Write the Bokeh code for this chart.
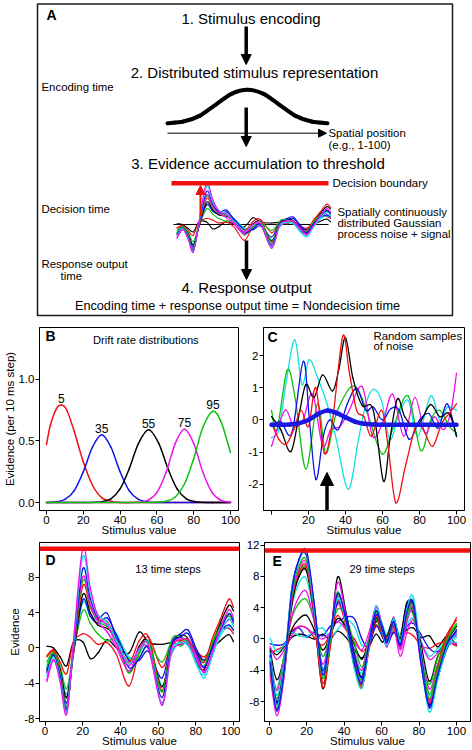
from bokeh.plotting import figure
from bokeh.models import (Range1d, FixedTicker, Span, Arrow, NormalHead, PrintfTickFormatter)
from bokeh.layouts import column, row
from bokeh.embed import file_html
from bokeh.resources import INLINE
from bokeh.core.properties import value

FONT = "Liberation Sans"
RED = "#f01010"
BLUE = "#1010e8"
GREEN = "#10c010"
CYAN = "#10e0e0"
MAGENTA = "#f010f0"
BLACK = "#000000"

# ---------------- data ----------------
# Panel A: schematic stimulus representation (spatial position 0-100, relative height)
REP_X = [0, 10, 20, 30, 40, 50, 60, 70, 80, 90, 100]
REP_Y = [0.0, 0.05, 0.22, 0.55, 0.88, 1.0, 0.88, 0.55, 0.22, 0.05, 0.0]

# Panel B: drift rate distributions
B_RED_X = [0, 2, 5, 8, 11, 15, 20, 25, 30, 35, 40, 50, 60, 70, 80, 90, 100]
B_RED_Y = [0.47, 0.62, 0.75, 0.79, 0.75, 0.58, 0.33, 0.14, 0.04, 0.01, 0.0, 0, 0, 0, 0, 0, 0]
B_BLUE_X = [0, 5, 10, 15, 20, 25, 30, 35, 40, 45, 50, 55, 60, 70, 80, 90, 100]
B_BLUE_Y = [0.0, 0.005, 0.025, 0.095, 0.25, 0.45, 0.55, 0.45, 0.25, 0.095, 0.025, 0.005, 0, 0, 0, 0, 0]
B_BLACK_X = [0, 10, 20, 30, 35, 40, 45, 50, 55.5, 61, 66, 71, 76, 81, 90, 100]
B_BLACK_Y = [0, 0, 0, 0.007, 0.03, 0.11, 0.275, 0.48, 0.59, 0.48, 0.275, 0.11, 0.03, 0.007, 0, 0]
B_MAGENTA_X = [0, 10, 20, 30, 40, 50, 55, 60, 65, 70, 75, 80, 85, 90, 95, 100]
B_MAGENTA_Y = [0, 0, 0, 0, 0, 0.002, 0.017, 0.08, 0.245, 0.48, 0.595, 0.48, 0.245, 0.08, 0.017, 0.002]
B_GREEN_X = [0, 10, 20, 30, 40, 50, 60, 65, 70, 75, 80, 85, 90.5, 95, 100]
B_GREEN_Y = [0, 0, 0, 0, 0, 0, 0.003, 0.01, 0.045, 0.15, 0.355, 0.61, 0.74, 0.65, 0.405]
B_LABELS = ["5", "35", "55", "75", "95"]
B_X_TICKS = [0, 20, 40, 60, 80, 100]
B_Y_TICKS = [0.0, 0.5, 1.0]

# Panel C: random samples of noise + signal
C_CYAN_X = [0, 4, 8, 12.6, 16.5, 20.4, 25, 30, 35, 41.5, 47, 51, 55, 59.5, 64, 69, 74, 79, 86, 91, 95, 100]
C_CYAN_Y = [-0.55, -0.3, 1.2, 2.49, 1.1, 1.87, 1.3, 0.5, -0.6, -2.15, -0.6, 0.5, 0.95, 0.6, -0.6, 0.2, 0.6, -0.5, 0.74, 0.0, 0.4, 0.3]
C_GREEN_X = [0, 3, 8.5, 13, 18.6, 24.9, 29.4, 35, 43, 48, 53, 60, 66, 73.8, 80.7, 86, 91, 96, 100]
C_GREEN_Y = [0.3, -0.3, 1.55, 0.6, -1.52, 0.5, -1.03, 0.2, 1.03, 0.8, 0.0, -1.06, -0.2, 0.75, -0.95, 0.0, 0.3, -0.2, -0.4]
C_BLUE_X = [0, 5, 11, 17.2, 20.5, 24, 28, 31.5, 36, 41, 46, 51, 55, 60, 64.5, 69, 74.4, 80, 85, 90, 95, 100]
C_BLUE_Y = [-0.2, -0.05, -0.4, 1.82, 0.0, -1.85, -0.5, 0.0, -0.3, 0.5, 0.98, 0.3, 0.4, 0.0, 0.35, 0.3, -0.6, 0.0, 0.2, -0.25, 0.5, -0.52]
C_BLACK_X = [0, 5, 10.5, 15, 18.6, 23, 27.6, 33, 36.5, 40, 44, 49, 55, 60.5, 64, 68, 72, 77, 81, 86, 91, 96, 100]
C_BLACK_Y = [0.1, -0.3, -0.98, 0.2, 1.1, 0.7, 1.4, 0.9, 1.6, 2.55, 1.3, 0.45, 0.3, -1.9, -0.6, 0.65, 0.1, -0.2, 0.0, 0.48, 0.1, 0.2, -0.5]
C_RED_X = [0, 4, 8, 12, 16, 20, 24, 28.5, 33, 38.5, 42, 46, 50, 54, 59.5, 63, 67.2, 72.5, 78, 82, 87, 92, 96, 100]
C_RED_Y = [-0.1, -0.6, -0.75, -0.3, 0.3, -0.2, 1.0, -1.03, 0.0, 2.6, 1.5, 0.3, 0.1, -0.5, 0.3, -0.8, -2.57, -1.4, -0.2, -0.3, -0.82, -0.1, 0.2, 0.5]
C_MAGENTA_X = [0, 3, 7.7, 12, 17, 22.2, 27.6, 32, 37, 42, 49, 54.6, 60, 65.5, 71.5, 77.5, 83, 88, 93, 97, 100]
C_MAGENTA_Y = [-0.82, -0.3, 0.31, -0.2, 0.0, 0.8, -0.8, -0.3, -0.2, 0.3, 1.03, -0.5, -0.1, 0.8, -0.5, 0.7, -0.4, 0.1, -0.3, 0.3, 1.45]
C_SIGNAL_X = [0, 10, 15, 20, 25, 30, 35, 40, 45, 50, 55, 60, 70, 80, 90, 100]
C_SIGNAL_Y = [-0.15, -0.14, -0.10, 0.0, 0.18, 0.29, 0.22, 0.08, -0.05, -0.12, -0.14, -0.15, -0.15, -0.15, -0.15, -0.15]
C_STIMULUS = 30
C_X_TICKS = [0, 20, 40, 60, 80, 100]
C_Y_TICKS = [-2, -1, 0, 1, 2]

# Panel D: 13 time steps (evidence by stimulus value)
D_X = [1, 4.5, 8, 11.5, 15, 20, 24, 28, 33, 38, 44.5, 50, 55, 62, 67, 72, 76, 80.5, 84.5, 89, 93, 97.5, 100]
D_BLACK_2 = [0.2, 0.0, -1.0, -2.0, 0.6, 0.7, -1.2, -0.6, 0.9, 0.0, -0.6, 1.8, 0.6, 0.4, 0.6, 0.4, 0.8, -0.6, -1.4, 0.0, 0.8, 1.5, 0.7]
D_RED_2 = [-0.9, -0.2, -1.6, -2.9, 0.6, 1.6, 1.2, 0.4, 0.6, -0.8, -4.3, -0.4, 1.2, -2.2, 0.4, 0.8, 0.6, -0.4, -1.0, 0.4, 2.0, 2.2, 1.6]
D_GREEN_2 = [-1.6, -0.4, -2.0, -4.6, -0.6, 4.2, 2.8, 1.6, 0.8, 1.0, -1.2, -1.0, 0.4, -1.6, 0.6, 0.2, 0.8, -0.8, -1.4, 0.8, 2.6, 3.6, 2.8]
D_CYAN_2 = [-2.0, -0.8, -2.2, -5.2, -0.4, 5.1, 3.6, 3.2, 2.6, 1.6, -1.0, -0.6, 0.8, -4.2, -0.8, 0.8, 0.4, -2.0, -3.0, -0.6, 1.4, 2.4, 2.0]
D_BLUE_2 = [-2.4, -0.6, -2.6, -6.2, -0.8, 5.4, 3.6, 2.8, 3.4, 1.4, -1.4, -1.4, -0.4, -3.4, 0.6, 1.6, 2.0, -0.2, -1.4, 0.0, 1.8, 2.6, 2.0]
D_BLACK_1 = [-2.6, -0.9, -2.4, -5.6, -0.6, 6.0, 4.0, 2.6, 2.2, 1.0, -2.8, 0.2, 0.6, -4.4, 0.2, 1.4, 1.0, -1.6, -2.4, 0.4, 2.8, 4.8, 4.2]
D_RED_1 = [-1.0, -0.4, -2.6, -6.8, -0.8, 7.0, 4.6, 3.2, 3.0, 0.8, -1.6, 0.8, 1.2, -4.8, 0.4, 0.8, 1.0, -0.8, -1.6, 1.2, 3.2, 5.5, 4.6]
D_GREEN_1 = [-2.2, -0.6, -2.8, -6.6, -0.4, 7.6, 4.8, 3.0, 2.4, 0.6, -2.8, -0.6, 0.6, -5.0, 0.8, 1.2, 0.6, -1.2, -2.0, 0.6, 2.4, 3.9, 3.2]
D_MAGENTA_2 = [-3.8, -1.4, -3.4, -7.2, 0.0, 8.0, 5.0, 3.0, 1.8, 0.0, -2.6, -0.2, -0.2, -6.2, -0.6, 0.4, 0.4, -1.4, -2.6, -0.6, 1.8, 3.2, 2.8]
D_BLUE_1 = [-2.8, -0.8, -3.2, -7.0, -0.2, 8.9, 5.6, 3.4, 3.9, 1.0, -2.2, -1.2, 0.0, -5.6, 0.2, 1.2, 1.6, -0.6, -2.2, 0.2, 2.0, 3.8, 3.0]
D_CYAN_1 = [-3.2, -1.0, -3.6, -7.2, 0.2, 10.3, 6.2, 3.8, 2.9, 0.8, -1.8, -0.2, 0.4, -6.4, -0.5, 0.6, 0.2, -1.8, -3.4, -0.8, 1.6, 3.3, 2.4]
D_MAGENTA_1 = [-3.6, -1.3, -3.8, -7.5, 0.5, 11.2, 6.8, 3.6, 2.6, 0.4, -2.0, 0.0, 0.2, -6.5, -0.2, 1.0, 0.8, -1.0, -2.8, -0.3, 2.2, 4.3, 3.4]
D_BOUNDARY = 11.2
D_X_TICKS = [0, 20, 40, 60, 80, 100]
D_Y_TICKS = [-8, -4, 0, 4, 8]

# Panel E: 29 time steps
E_X = [0.5, 4, 8, 12, 16, 20, 24, 28.5, 32.5, 36.5, 41, 45.5, 49.5, 53, 57, 60.5, 63, 66.5, 70, 73.5, 77, 81, 85.5, 90, 95, 100]
E_BLACK_3 = [-1.2, -2.0, -1.0, 0.2, 0.6, 0.4, 0.0, 0.6, 0.0, 1.0, 0.2, -1.4, -2.4, -1.2, 0.6, -0.4, 0.4, 0.8, 0.4, 1.2, 1.4, 0.2, 0.4, -1.0, 0.4, -0.8]
E_RED_3 = [-1.8, -1.4, -0.8, 1.0, 1.6, 1.4, 0.2, -0.8, 0.6, 3.0, 1.2, 0.0, -1.6, -0.6, 1.8, 0.6, -0.2, 1.0, 0.4, 0.8, 0.4, -0.8, -1.2, -0.6, -0.4, -0.9]
E_BLUE_3 = [-0.6, -0.8, -0.6, 0.8, 1.4, 0.2, 0.8, 0.4, 1.6, 2.2, 2.8, 2.6, 0.0, -1.0, 1.6, 0.2, -0.8, 0.8, -0.4, 1.6, 2.0, 0.6, -1.2, -1.6, -0.2, 0.6]
E_CYAN_3 = [0.1, -1.6, -0.8, 0.8, 0.4, 0.3, 1.0, 1.4, 0.2, 1.2, 2.4, 1.6, -0.8, -0.2, 2.4, 0.8, 0.2, 1.2, 0.0, 1.8, 2.6, -0.2, -2.2, -1.2, -0.8, -0.4]
E_MAGENTA_3 = [-1.0, -2.6, -1.4, 0.4, 1.6, 1.4, 0.6, 0.0, 0.8, 2.2, 1.2, -0.4, -1.4, 0.6, 3.6, 1.2, -0.6, 1.4, -2.2, 0.8, 2.4, -0.4, -2.6, -1.8, -0.6, -0.6]
E_BLACK_2 = [-1.4, -5.2, -2.4, 1.2, 2.6, 3.0, 1.2, -1.4, 0.4, 2.6, 1.6, -0.8, -2.6, -0.4, 2.2, 1.4, 0.2, 1.8, 0.4, 4.6, 3.2, -0.6, -5.4, -2.2, -0.6, 0.6]
E_GREEN_3 = [-2.6, -6.4, -2.0, 2.6, 4.6, 5.0, 2.4, -2.2, 0.6, 3.8, 2.8, -0.6, -3.6, -0.2, 2.4, 0.6, 0.6, 2.2, 0.2, 3.4, 3.0, -1.6, -5.8, -2.4, 0.4, 1.6]
E_MAGENTA_2 = [-2.2, -6.6, -2.6, 2.8, 5.4, 6.0, 2.2, -3.2, 0.6, 4.4, 2.0, -1.6, -4.0, -0.2, 4.0, 1.2, -1.0, 2.8, -1.4, 2.2, 3.6, -1.2, -6.4, -3.2, -0.6, 0.4]
E_CYAN_2 = [-1.8, -7.2, -3.0, 4.0, 7.2, 7.6, 2.8, -3.8, 0.4, 5.0, 2.6, -1.8, -4.4, -0.6, 3.6, 1.8, 0.6, 2.4, 0.4, 3.0, 5.0, -1.4, -7.2, -4.4, -1.2, 0.2]
E_RED_2 = [-4.6, -9.0, -4.4, 4.2, 8.2, 8.8, 3.4, -5.6, -1.0, 4.8, 1.6, -3.6, -6.2, -1.8, 3.0, 0.4, -0.4, 1.8, -0.6, 3.6, 4.2, -2.8, -7.8, -3.4, 0.6, 2.4]
E_GREEN_2 = [-3.2, -7.6, -3.6, 4.6, 8.4, 9.0, 3.4, -4.6, 0.2, 6.0, 2.0, -3.4, -5.8, -1.0, 3.4, 1.0, -0.2, 1.4, -0.8, 2.6, 3.8, -2.0, -7.0, -3.4, 0.2, 2.0]
E_BLACK_1 = [-2.8, -8.0, -3.8, 4.4, 8.0, 8.6, 3.0, -6.3, -0.6, 7.9, 3.4, -2.0, -4.8, -0.8, 2.6, 0.8, 0.4, 2.6, 0.0, 4.6, 4.0, -1.8, -8.4, -4.2, -0.4, 1.6]
E_RED_1 = [-3.8, -8.4, -4.4, 4.8, 8.6, 9.2, 3.0, -6.2, -1.2, 5.4, 2.6, -2.4, -6.0, -1.6, 2.8, 0.6, 0.2, 1.6, -1.0, 3.2, 4.4, -2.2, -8.2, -3.6, 0.2, 2.7]
E_MAGENTA_1 = [-4.2, -9.8, -4.8, 5.0, 9.0, 9.6, 3.6, -5.0, -0.2, 7.2, 3.0, -2.6, -5.4, -0.4, 4.2, 1.4, -0.6, 1.8, -1.2, 2.8, 4.0, -3.2, -8.0, -4.4, -0.8, 0.8]
E_GREEN_1 = [-3.4, -8.8, -4.2, 5.4, 9.4, 10.0, 4.0, -5.0, -0.4, 5.6, 2.2, -3.0, -5.2, -0.6, 3.2, 1.2, 0.0, 2.0, -0.2, 3.0, 4.2, -2.4, -7.6, -4.0, -0.2, 1.8]
E_BLUE_2 = [-2.0, -8.2, -3.4, 6.4, 10.2, 10.6, 4.6, -4.0, 0.4, 4.6, 2.8, -2.2, -5.0, -1.2, 3.0, 1.6, -0.2, 2.2, -0.6, 4.2, 4.4, -2.2, -8.8, -5.0, -1.2, 1.2]
E_CYAN_1 = [-2.4, -8.6, -3.6, 6.2, 10.0, 11.0, 4.2, -4.4, 0.0, 5.2, 2.0, -3.8, -6.3, -1.4, 4.2, 0.8, -0.8, 2.6, -0.4, 3.8, 5.3, -2.6, -9.3, -5.2, -1.0, 0.6]
E_BLUE_1 = [-3.0, -9.2, -4.0, 6.0, 10.2, 11.2, 4.6, -4.5, 0.2, 5.8, 2.4, -3.2, -5.6, -1.0, 3.6, 1.0, -0.4, 2.2, -0.8, 3.4, 4.6, -3.0, -8.6, -4.6, -0.6, 1.0]
E_BOUNDARY = 11.3
E_X_TICKS = [0, 20, 40, 60, 80, 100]
E_Y_TICKS = [-8, -4, 0, 4, 8, 12]

# ---------------- series collections ----------------
B_SERIES = [(B_RED_X, B_RED_Y, RED), (B_BLUE_X, B_BLUE_Y, BLUE), (B_BLACK_X, B_BLACK_Y, BLACK),
            (B_MAGENTA_X, B_MAGENTA_Y, MAGENTA), (B_GREEN_X, B_GREEN_Y, GREEN)]
C_SERIES = [(C_CYAN_X, C_CYAN_Y, CYAN), (C_GREEN_X, C_GREEN_Y, GREEN), (C_MAGENTA_X, C_MAGENTA_Y, MAGENTA),
            (C_BLUE_X, C_BLUE_Y, BLUE), (C_BLACK_X, C_BLACK_Y, BLACK), (C_RED_X, C_RED_Y, RED)]
D_SERIES = [(D_BLACK_2, BLACK), (D_RED_2, RED), (D_GREEN_2, GREEN), (D_CYAN_2, CYAN), (D_BLUE_2, BLUE),
            (D_BLACK_1, BLACK), (D_RED_1, RED), (D_GREEN_1, GREEN), (D_MAGENTA_2, MAGENTA),
            (D_BLUE_1, BLUE), (D_CYAN_1, CYAN), (D_MAGENTA_1, MAGENTA)]
E_SERIES = [(E_BLACK_3, BLACK), (E_RED_3, RED), (E_BLUE_3, BLUE), (E_CYAN_3, CYAN), (E_MAGENTA_3, MAGENTA),
            (E_BLACK_2, BLACK), (E_GREEN_3, GREEN), (E_MAGENTA_2, MAGENTA), (E_CYAN_2, CYAN),
            (E_RED_2, RED), (E_GREEN_2, GREEN), (E_BLACK_1, BLACK), (E_RED_1, RED), (E_MAGENTA_1, MAGENTA),
            (E_GREEN_1, GREEN), (E_BLUE_2, BLUE), (E_CYAN_1, CYAN), (E_BLUE_1, BLUE)]


# ---------------- helpers ----------------
def smooth_line(p, xs, ys, color, width, **renderer_kw):
    """Draw a smooth curve through the read points with Bokeh's Bezier glyph
    (Catmull-Rom tangents -> cubic control points)."""
    pts = list(zip(xs, ys))
    n = len(pts)
    x0, y0, x1, y1, cx0, cy0, cx1, cy1 = [], [], [], [], [], [], [], []
    for i in range(n - 1):
        xa, ya = pts[i]
        xb, yb = pts[i + 1]
        xp, yp = pts[i - 1] if i > 0 else pts[i]
        xn, yn = pts[i + 2] if i + 2 < n else pts[i + 1]
        x0.append(xa); y0.append(ya); x1.append(xb); y1.append(yb)
        cx0.append(xa + (xb - xp) / 6.0); cy0.append(ya + (yb - yp) / 6.0)
        cx1.append(xb - (xn - xa) / 6.0); cy1.append(yb - (yn - ya) / 6.0)
    p.bezier(x0=x0, y0=y0, x1=x1, y1=y1, cx0=cx0, cy0=cy0, cx1=cx1, cy1=cy1,
             line_color=color, line_width=width, line_cap="round", **renderer_kw)


def txt(p, x, y, s, size, align="left", bold=False, color="black", **kw):
    p.text(x=[x], y=[y], text=[s], text_font=value(FONT), text_font_size=size,
           text_align=align, text_baseline="middle", text_color=color,
           text_font_style="bold" if bold else "normal", **kw)


def arrow(p, x0, y0, x1, y1, color, width, head):
    p.add_layout(Arrow(end=NormalHead(size=head, fill_color=color, line_color=color, line_width=1),
                       x_start=x0, y_start=y0, x_end=x1, y_end=y1,
                       line_color=color, line_width=width))


def style_panel(p, xticks, yticks, ylabel=None, hide_zero=False):
    p.grid.visible = False
    p.outline_line_color = "black"
    p.outline_line_width = 1
    p.outline_line_alpha = 1
    p.background_fill_color = "white"
    p.border_fill_color = "white"
    p.xaxis.ticker = FixedTicker(ticks=xticks)
    p.yaxis.ticker = FixedTicker(ticks=yticks)
    xo = {t: str(t) for t in xticks}
    if hide_zero:
        xo[0] = ""
    p.xaxis.major_label_overrides = xo
    p.axis.minor_tick_line_color = None
    p.axis.major_tick_in = 0
    p.axis.major_tick_out = 4
    p.axis.major_tick_line_color = "black"
    p.axis.axis_line_color = "black"
    p.axis.major_label_standoff = 1
    p.axis.major_label_text_font = FONT
    p.axis.major_label_text_font_size = "11.5px"
    p.axis.major_label_text_color = "black"
    p.axis.axis_label_text_font = FONT
    p.axis.axis_label_text_font_size = "11.5px"
    p.axis.axis_label_text_font_style = "normal"
    p.axis.axis_label_text_color = "black"
    p.xaxis.axis_label = "Stimulus value"
    p.xaxis.axis_label_standoff = -3
    if ylabel:
        p.yaxis.axis_label = ylabel
        p.yaxis.axis_label_standoff = 0


# ---------------- panel A (schematic, pixel-like coordinates) ----------------
pA = figure(width=472, height=320, x_range=Range1d(0, 472), y_range=Range1d(320, 0),
            output_backend="svg", toolbar_location=None, x_axis_type=None, y_axis_type=None,
            min_border=0, outline_line_color=None)
pA.extra_x_ranges = {"rep_x": Range1d(-104.375, 190.625), "ins_x": Range1d(-112.9, 191.6)}
pA.extra_y_ranges = {"rep_y": Range1d(-5.907, 3.674), "ins_y": Range1d(-26.02, 60.70)}

pA.quad(left=[37], right=[452], top=[3.5], bottom=[315], fill_color=None,
        line_color="#1a1a1a", line_width=1.5)
txt(pA, 46, 14, "A", "14px", bold=True)
txt(pA, 250.5, 18, "1. Stimulus encoding", "15px", align="center")
arrow(pA, 245.7, 26, 245.7, 64, BLACK, 3.5, 10)
txt(pA, 254, 71.7, "2. Distributed stimulus representation", "15px", align="center")
txt(pA, 41, 86, "Encoding time", "11.4px")
smooth_line(pA, REP_X, REP_Y, BLACK, 4, x_range_name="rep_x", y_range_name="rep_y")
arrow(pA, 167, 132.7, 326, 132.7, BLACK, 1, 8)
arrow(pA, 245.7, 107, 245.7, 146, BLACK, 3.5, 10)
txt(pA, 328, 132, "Spatial position", "11.4px")
txt(pA, 328, 144.3, "(e.g., 1-100)", "11.4px")
txt(pA, 257.5, 163.3, "3. Evidence accumulation to threshold", "15px", align="center")

# inset of accumulated evidence (same series as panel D)
pA.segment(x0=[-1.3], y0=[0], x1=[98.7], y1=[0], line_color=BLACK, line_width=1,
           x_range_name="ins_x", y_range_name="ins_y")
for ys, col in D_SERIES:
    smooth_line(pA, D_X, ys, col, 1.1, x_range_name="ins_x", y_range_name="ins_y")
pA.segment(x0=[-2.6], y0=[D_BOUNDARY], x1=[98.7], y1=[D_BOUNDARY], line_color=RED, line_width=4.5,
           x_range_name="ins_x", y_range_name="ins_y")
arrow(pA, 200, 216, 200, 185, RED, 2, 9)
txt(pA, 332, 182.7, "Decision boundary", "11.5px")
txt(pA, 41, 208.3, "Decision time", "11.4px")
txt(pA, 337, 211.7, "Spatially continuously", "11.4px")
txt(pA, 337, 222.7, "distributed Gaussian", "11.4px")
txt(pA, 337, 233.5, "process noise + signal", "11.4px")
txt(pA, 41, 263.3, "Response output", "11.4px")
txt(pA, 60, 275, "time", "11.4px")
arrow(pA, 246, 240, 246, 279, BLACK, 3.5, 10)
txt(pA, 246, 286.7, "4. Response output", "15px", align="center")
txt(pA, 237, 305, "Encoding time + response output time = Nondecision time", "12.7px", align="center")

# ---------------- panel B ----------------
pB = figure(width=240, height=218, x_range=Range1d(-3.8, 104.35), y_range=Range1d(-0.0645, 1.419),
            output_backend="svg", toolbar_location=None,
            min_border_left=39, min_border_right=2, min_border_top=7, min_border_bottom=27)
style_panel(pB, B_X_TICKS, B_Y_TICKS, ylabel="Evidence (per 10 ms step)")
pB.yaxis.formatter = PrintfTickFormatter(format="%.1f")
for xs, ys, col in B_SERIES:
    smooth_line(pB, xs, ys, col, 1.5)
lab_x, lab_y = [], []
for xs, ys, col in B_SERIES:
    k = ys.index(max(ys))
    lab_x.append(xs[k])
    lab_y.append(ys[k] + 0.052)
pB.text(x=lab_x, y=lab_y, text=B_LABELS, text_font=value(FONT), text_font_size="12px",
        text_align="center", text_baseline="middle", text_color="black")
txt(pB, -0.5, 1.347, "B", "14px", bold=True)
txt(pB, 54, 1.32, "Drift rate distributions", "11.2px", align="center")

# ---------------- panel C ----------------
pC = figure(width=232, height=218, x_range=Range1d(-4.32, 104.3), y_range=Range1d(-2.81, 2.87),
            output_backend="svg", toolbar_location=None,
            min_border_left=23, min_border_right=8, min_border_top=7, min_border_bottom=27)
style_panel(pC, C_X_TICKS, C_Y_TICKS, hide_zero=True)
pC.yaxis.major_label_overrides = {t: str(t) for t in C_Y_TICKS}
for xs, ys, col in C_SERIES:
    smooth_line(pC, xs, ys, col, 1.3)
smooth_line(pC, C_SIGNAL_X, C_SIGNAL_Y, "#1818e0", 4.5)
arrow(pC, C_STIMULUS, -2.81, C_STIMULUS, -1.63, BLACK, 3.5, 13)
txt(pC, -2.2, 2.59, "C", "14px", bold=True)
txt(pC, 55.1, 2.62, "Random samples", "11.4px")
txt(pC, 55.1, 2.31, "of noise", "11.4px")

# ---------------- panel D ----------------
pD = figure(width=240, height=211, x_range=Range1d(-2.92, 103.2), y_range=Range1d(-8.31, 11.91),
            output_backend="svg", toolbar_location=None,
            min_border_left=39, min_border_right=1, min_border_top=4, min_border_bottom=27)
style_panel(pD, D_X_TICKS, D_Y_TICKS, ylabel="Evidence")
pD.yaxis.major_label_overrides = {t: str(t) for t in D_Y_TICKS}
for ys, col in D_SERIES:
    smooth_line(pD, D_X, ys, col, 1.3)
pD.add_layout(Span(location=D_BOUNDARY, dimension="width", line_color=RED, line_width=4.5))
txt(pD, 0.3, 9.9, "D", "14px", bold=True)
txt(pD, 65.3, 8.9, "13 time steps", "11px", align="center")

# ---------------- panel E ----------------
pE = figure(width=232, height=211, x_range=Range1d(-2.51, 107.5), y_range=Range1d(-10.55, 12.33),
            output_backend="svg", toolbar_location=None,
            min_border_left=24, min_border_right=2, min_border_top=4, min_border_bottom=27)
style_panel(pE, E_X_TICKS, E_Y_TICKS)
pE.yaxis.major_label_overrides = {t: str(t) for t in E_Y_TICKS}
for ys, col in E_SERIES:
    smooth_line(pE, E_X, ys, col, 1.3)
pE.add_layout(Span(location=E_BOUNDARY, dimension="width", line_color=RED, line_width=4.5))
txt(pE, 1.8, 10.0, "E", "14px", bold=True)
txt(pE, 60.3, 9.0, "29 time steps", "11px", align="center")

layout = column(pA, row(pB, pC, spacing=0), row(pD, pE, spacing=0), spacing=0)
open("out.html", "w").write(file_html(layout, INLINE, title="Spatial diffusion model"))
